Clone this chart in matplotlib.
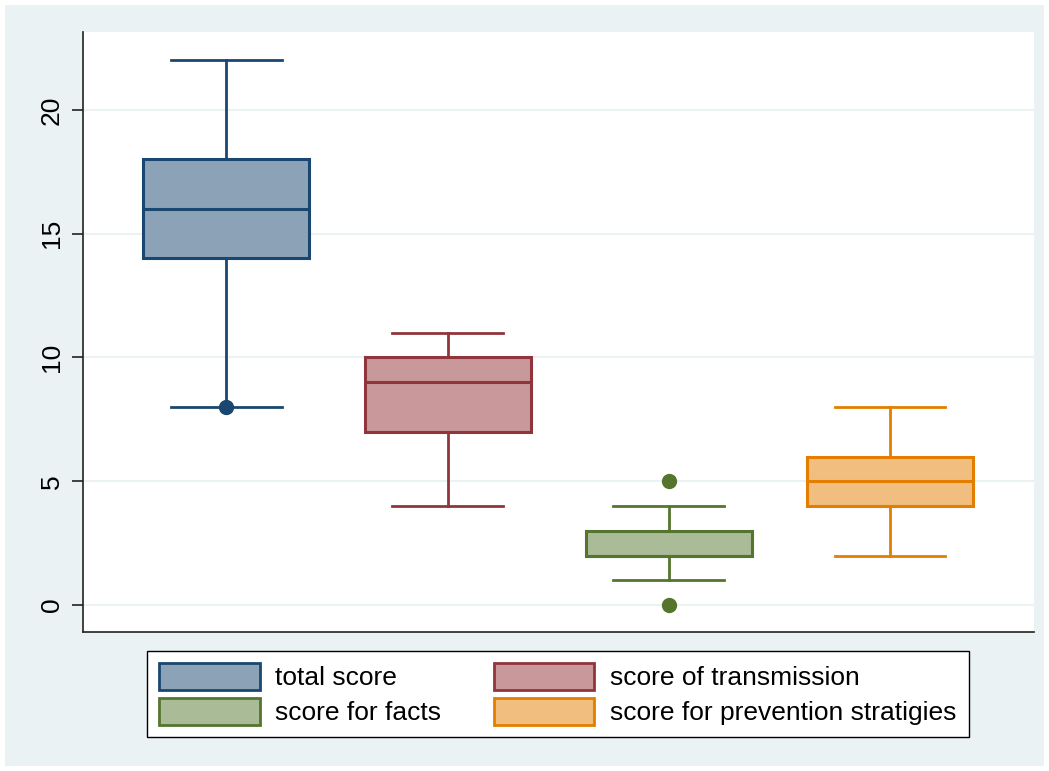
import matplotlib.pyplot as plt
from matplotlib.patches import Rectangle, Patch

# box plot values
labels = ["total score", "score of transmission", "score for facts",
          "score for prevention stratigies"]
whislo = [8, 4, 1, 2]
q1 = [14, 7, 2, 4]
med = [16, 9, 2, 5]
q3 = [18, 10, 3, 6]
whishi = [22, 11, 4, 8]
fliers = [[8], [], [0, 5], []]

edge_colors = ["#1a476f", "#90353b", "#55752f", "#e37e00"]
fill_colors = ["#8ca3b7", "#c8989b", "#aabb97", "#f1be7f"]

plt.rcParams['font.family'] = ['Liberation Sans', 'DejaVu Sans']

W, H = 1049, 771
fig = plt.figure(figsize=(W / 100, H / 100), dpi=100)
fig.patch.set_facecolor("white")
fig.patches.append(Rectangle((5 / W, 5 / H), (W - 10) / W, (H - 10) / H,
                             transform=fig.transFigure, facecolor="#eaf2f3",
                             edgecolor="none", zorder=-10))

ax = fig.add_axes([83 / W, 1 - 632 / H, (1034 - 83) / W, (632 - 32) / H])
ax.set_facecolor("white")

stats = []
for i in range(4):
    stats.append(dict(whislo=whislo[i], q1=q1[i], med=med[i], q3=q3[i],
                      whishi=whishi[i], fliers=fliers[i]))

for i, s in enumerate(stats):
    c = edge_colors[i]
    ax.bxp([s], positions=[i + 1], widths=0.75, patch_artist=True,
           showfliers=True,
           boxprops=dict(facecolor=fill_colors[i], edgecolor=c, linewidth=2.2),
           medianprops=dict(color=c, linewidth=2.2),
           whiskerprops=dict(color=c, linewidth=2),
           capprops=dict(color=c, linewidth=2),
           capwidths=0.5,
           flierprops=dict(marker="o", markerfacecolor=c, markeredgecolor=c,
                           markersize=10))

ax.set_xlim(0.353, 4.65)
ax.set_ylim(-1.09, 23.15)
ax.set_yticks([0, 5, 10, 15, 20])
ax.set_xticks([])
ax.grid(axis="y", color="#eaf2f3", linewidth=1.5)
ax.set_axisbelow(True)
for sp in ["top", "right"]:
    ax.spines[sp].set_visible(False)
for sp in ["left", "bottom"]:
    ax.spines[sp].set_color("#222222")
    ax.spines[sp].set_linewidth(1.2)
ax.tick_params(axis="y", length=8, width=1.2, color="#222222", labelsize=19,
               pad=6)
for t in ax.get_yticklabels():
    t.set_rotation(90)
    t.set_va("center")

handles = [Patch(facecolor=fill_colors[i], edgecolor=edge_colors[i],
                 linewidth=2, label=labels[i]) for i in range(4)]
order = [0, 2, 1, 3]
leg = fig.legend([handles[k] for k in order], [labels[k] for k in order],
                 ncol=2, loc="center", bbox_to_anchor=(558 / W, 1 - 694 / H),
                 fontsize=19, frameon=True, fancybox=False, edgecolor="black",
                 framealpha=1, facecolor="white",
                 handlelength=3.8, handleheight=1.2, columnspacing=2.0,
                 handletextpad=0.6, labelspacing=0.3, borderpad=0.45,
                 borderaxespad=0)
leg.get_frame().set_linewidth(1)

fig.savefig("out.png", dpi=100, facecolor=fig.get_facecolor())
